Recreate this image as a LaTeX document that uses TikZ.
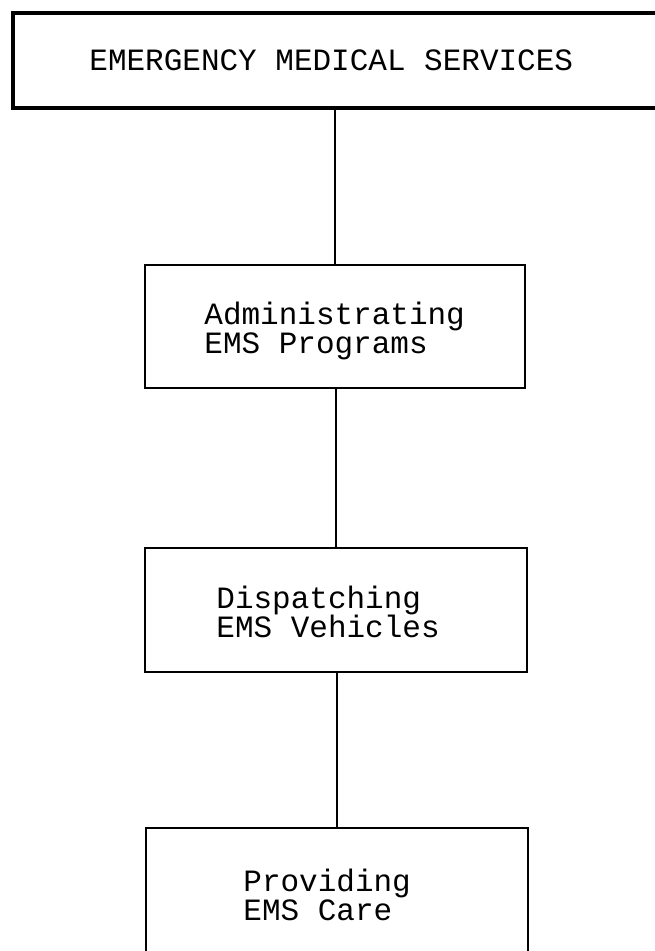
\documentclass[tikz,border=0pt]{standalone}
\usepackage{fontspec}
\newfontfamily\typefont{Liberation Mono}
\usepackage{tikz}

\begin{document}
\begin{tikzpicture}[x=0.5pt, y=-0.5pt,
    box/.style={draw, line width=1pt, minimum width=191pt, minimum height=62pt, inner sep=0pt},
    txt/.style={anchor=west, inner sep=0pt, align=left, font=\typefont\fontsize{15.5}{14.5}\selectfont},
    link/.style={line width=1pt}]
    \useasboundingbox (0, 0) rectangle (654, 951);
    \node[box, line width=1.6pt, minimum width=323.5pt, minimum height=47.5pt] (ems) at (336.5, 60.5) {};
    \node[box, minimum width=190pt, minimum height=61.5pt] (adm) at (335, 326.5) {};
    \node[box] (dsp) at (336, 610) {};
    \node[box, minimum height=66pt] (prv) at (337, 894) {};
    \node[txt] (t1) at (89, 60) {EMERGENCY MEDICAL SERVICES};
    \node[txt] (t2) at (204, 330.5) {Administrating\\EMS Programs};
    \node[txt] (t3) at (216, 612) {Dispatching\\EMS Vehicles};
    \node[txt] (t4) at (243, 895) {Providing\\EMS Care};
    \draw [link] (adm.north |- ems.south) to (adm.north);
    \draw [link] (dsp.north |- adm.south) to (dsp.north);
    \draw [link] (prv.north |- dsp.south) to (prv.north);
  \end{tikzpicture}
\end{document}
